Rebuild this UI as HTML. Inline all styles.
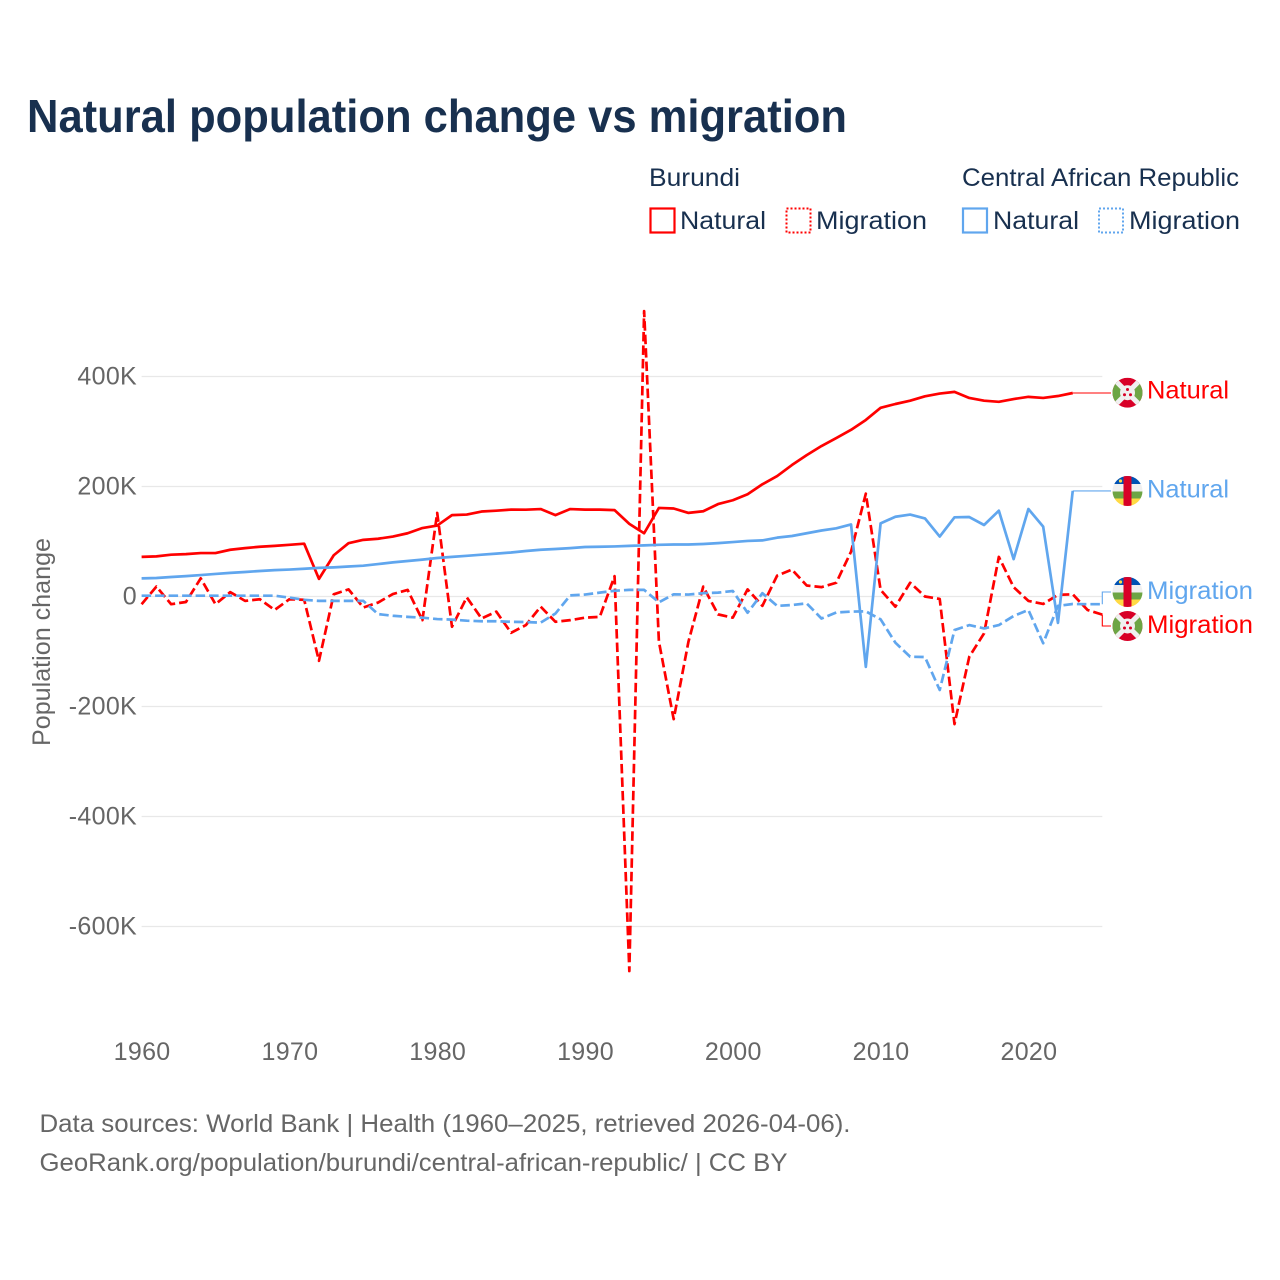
<!DOCTYPE html>
<html lang="en">
<head>
<meta charset="utf-8">
<title>Natural population change vs migration</title>
<style>
html,body{margin:0;padding:0;background:#fff}
svg{display:block}
text{font-family:"Liberation Sans",sans-serif}
</style>
</head>
<body>
<svg id="chart" width="1280" height="1280" viewBox="0 0 1280 1280" xmlns="http://www.w3.org/2000/svg">
  <defs>
    <clipPath id="flag-clip"><circle cx="0" cy="0" r="15"/></clipPath>
    <g id="flag-bi">
      <g clip-path="url(#flag-clip)">
        <rect x="-15" y="-15" width="30" height="30" fill="#d80027"/>
        <polygon points="-15,-15 0,0 -15,15" fill="#6da544"/>
        <polygon points="15,-15 0,0 15,15" fill="#6da544"/>
        <line x1="-15" y1="-15" x2="15" y2="15" stroke="#f0f0f0" stroke-width="5"/>
        <line x1="15" y1="-15" x2="-15" y2="15" stroke="#f0f0f0" stroke-width="5"/>
        <circle cx="0" cy="0" r="7.5" fill="#f0f0f0"/>
        <circle cx="0" cy="-3.2" r="1.5" fill="#d80027"/>
        <circle cx="-3" cy="2" r="1.5" fill="#d80027"/>
        <circle cx="3" cy="2" r="1.5" fill="#d80027"/>
      </g>
    </g>
    <g id="flag-cf">
      <g clip-path="url(#flag-clip)">
        <rect x="-15" y="-15" width="30" height="8" fill="#0052b4"/>
        <rect x="-15" y="-7" width="30" height="7.5" fill="#f0f0f0"/>
        <rect x="-15" y="0.5" width="30" height="7" fill="#6da544"/>
        <rect x="-15" y="7.5" width="30" height="7.5" fill="#ffda44"/>
        <rect x="-4" y="-15" width="8" height="30" fill="#d80027"/>
        <circle cx="-7" cy="-10" r="1.6" fill="#ffda44"/>
      </g>
    </g>
  </defs>

  <text x="27" y="132" font-size="46" font-weight="700" fill="#18304f" textLength="820" lengthAdjust="spacingAndGlyphs">Natural population change vs migration</text>

  <g font-size="25" fill="#18304f">
    <text x="649" y="186" textLength="91" lengthAdjust="spacingAndGlyphs">Burundi</text>
    <text x="962" y="186" textLength="277" lengthAdjust="spacingAndGlyphs">Central African Republic</text>
    <rect x="650.5" y="208.5" width="24" height="24" fill="none" stroke="#ff0000" stroke-width="2.2"/>
    <text x="680" y="229" textLength="86" lengthAdjust="spacingAndGlyphs">Natural</text>
    <rect x="786.5" y="208.5" width="24" height="24" fill="none" stroke="#ff0000" stroke-width="2" stroke-dasharray="2 2"/>
    <text x="816" y="229" textLength="111" lengthAdjust="spacingAndGlyphs">Migration</text>
    <rect x="963" y="208.5" width="24" height="24" fill="none" stroke="#60a6ee" stroke-width="2.2"/>
    <text x="993" y="229" textLength="86" lengthAdjust="spacingAndGlyphs">Natural</text>
    <rect x="1099" y="208.5" width="24" height="24" fill="none" stroke="#60a6ee" stroke-width="2" stroke-dasharray="2 2"/>
    <text x="1129" y="229" textLength="111" lengthAdjust="spacingAndGlyphs">Migration</text>
  </g>

  <g id="grid"></g>
  <g id="yticks"></g>
  <g id="xticks"></g>
  <text transform="translate(50,746) rotate(-90)" font-size="25" fill="#666666" textLength="208" lengthAdjust="spacingAndGlyphs">Population change</text>
  <g id="connectors"></g>
  <g id="series"></g>

  <g font-size="25">
    <use href="#flag-bi" x="1127.5" y="392.7"/>
    <text x="1147" y="398.5" fill="#ff0000" textLength="82" lengthAdjust="spacingAndGlyphs">Natural</text>
    <use href="#flag-cf" x="1127.5" y="491"/>
    <text x="1147" y="497.5" fill="#60a6ee" textLength="82" lengthAdjust="spacingAndGlyphs">Natural</text>
    <use href="#flag-cf" x="1127.5" y="592"/>
    <text x="1147" y="599" fill="#60a6ee" textLength="106" lengthAdjust="spacingAndGlyphs">Migration</text>
    <use href="#flag-bi" x="1127.5" y="626"/>
    <text x="1147" y="633" fill="#ff0000" textLength="106" lengthAdjust="spacingAndGlyphs">Migration</text>
  </g>

  <g font-size="25" fill="#666666">
    <text x="39.5" y="1132" textLength="811" lengthAdjust="spacingAndGlyphs">Data sources: World Bank | Health (1960–2025, retrieved 2026-04-06).</text>
    <text x="39.5" y="1171" textLength="748" lengthAdjust="spacingAndGlyphs">GeoRank.org/population/burundi/central-african-republic/ | CC BY</text>
  </g>
</svg>
<script>
var years = [1960,1961,1962,1963,1964,1965,1966,1967,1968,1969,1970,1971,1972,1973,1974,1975,1976,1977,1978,1979,1980,1981,1982,1983,1984,1985,1986,1987,1988,1989,1990,1991,1992,1993,1994,1995,1996,1997,1998,1999,2000,2001,2002,2003,2004,2005,2006,2007,2008,2009,2010,2011,2012,2013,2014,2015,2016,2017,2018,2019,2020,2021,2022,2023,2024,2025];
var burundiNatural = [72,73,76,77,79,79,85,88,90.5,92,94,96,32,75,97,103,105,109,115,124.5,129,148,149,154.5,156,158,157.8,159,148,159,158,158,157,132,115,161,160,152,155,168,175,186,204,219,239,257,273.6,288,303,321,343,350,356,364,369,372,361,356,354,359,363,361,364.5,370];
var burundiMigration = [-14,18,-14,-10,33,-14,8,-8,-5,-24.5,-5,-6,-117,4,13,-20,-11,4.5,12,-43,152,-55,-1.5,-40,-27.5,-66,-52,-18.5,-46,-43,-38.5,-37,37,-681,519,-82,-223,-82,18,-32.5,-38.5,13,-17,38,49,20,17,25,81.5,187,12,-18.5,25,0,-4.5,-232,-109.5,-67,72,17,-8,-13.6,3,4,-24.5,-33];
var carNatural = [33,33.6,35.5,37,39,41,43,44.5,46.4,48,49,50.5,52,53,54.5,56,59,62,64.5,67,70,72,74,76,78,80,82.7,85,86.4,88,90,90.5,91,92,93,94,94.5,94.5,95.5,97,99,101,102,107,110,115,120,124,131,-128,133,145,149,142,109,144,144.5,130,156,68,159,127,-48,192];
var carMigration = [1.5,1.5,1.5,1.5,1.5,1.5,1.5,1.5,1.5,1.5,-2,-6,-8,-8,-8,-8,-32,-35,-37,-38.5,-41,-42,-44,-45,-45,-46,-46.5,-47.5,-31,2,3.5,7,10.5,12,12,-10.5,4,3.5,6,7,10,-29.5,6,-17,-15.5,-12.5,-40,-29,-27.5,-27,-41.5,-84,-109.5,-110,-170,-61,-52,-58,-52,-35.5,-24.5,-85,-17,-13.6,-14,-14];
var xTickLabels = [1960,1970,1980,1990,2000,2010,2020];
var yTickValues = [400,200,0,-200,-400,-600];

var NS = 'http://www.w3.org/2000/svg';
function xScale(year){ return 141.6 + (year - 1960) * 14.78; }
function yScale(k){ return 596.5 - k * 0.55; }
function make(tag, attrs, parent){
  var el = document.createElementNS(NS, tag);
  for (var k in attrs) el.setAttribute(k, attrs[k]);
  parent.appendChild(el);
  return el;
}
var gridG = document.getElementById('grid');
var yG = document.getElementById('yticks');
var xG = document.getElementById('xticks');
var seriesG = document.getElementById('series');
var connG = document.getElementById('connectors');

yTickValues.forEach(function(v){
  var line = make('line', {x1:xScale(1960), x2:xScale(2025), y1:yScale(v), y2:yScale(v), stroke:'#e8e8e8', 'stroke-width':1.2}, gridG);
  
  
  var t = make('text', {x:137, y:yScale(v)+8, 'text-anchor':'end', 'font-size':25, 'letter-spacing':0.3, fill:'#666666'}, yG);
  
  
  t.textContent = v === 0 ? '0' : v + 'K';
});
xTickLabels.forEach(function(y){
  var t = make('text', {x:xScale(y)+0.5, y:1060, 'text-anchor':'middle', 'font-size':25, 'letter-spacing':0.3, fill:'#666666'}, xG);
  
  
  t.textContent = y;
});

function drawConnector(values, labelY, color, name){
  var i = values.length - 1;
  var x0 = xScale(years[i]), y0 = yScale(values[i]);
  var d;
  if (Math.abs(y0 - labelY) < 2) {
    d = 'M' + x0 + ' ' + y0 + 'H1111';
  } else {
    d = 'M' + x0 + ' ' + y0 + 'V' + labelY + 'H1111';
  }
  var p = make('path', {d:d, fill:'none', stroke:color, 'stroke-width':1.1}, connG);
  
  
}
drawConnector(burundiNatural, yScale(burundiNatural[burundiNatural.length-1]), '#ff0000', 'connector-burundi-natural');
drawConnector(carNatural, yScale(carNatural[carNatural.length-1]), '#60a6ee', 'connector-car-natural');
drawConnector(carMigration, 592, '#60a6ee', 'connector-car-migration');
drawConnector(burundiMigration, 626, '#ff0000', 'connector-burundi-migration');

function drawLine(values, color, dash, name){
  var d = values.map(function(v, i){
    return (i ? 'L' : 'M') + xScale(years[i]).toFixed(2) + ' ' + yScale(v).toFixed(2);
  }).join('');
  var attrs = {d:d, fill:'none', stroke:color, 'stroke-width':2.7, 'stroke-linejoin':'round'};
  if (dash) attrs['stroke-dasharray'] = dash;
  var p = make('path', attrs, seriesG);
  
  
}
drawLine(burundiNatural, '#ff0000', null, 'line-burundi-natural');
drawLine(burundiMigration, '#ff0000', '9.5 4', 'line-burundi-migration');
drawLine(carNatural, '#60a6ee', null, 'line-car-natural');
drawLine(carMigration, '#60a6ee', '9.5 4', 'line-car-migration');
</script>
</body>
</html>
